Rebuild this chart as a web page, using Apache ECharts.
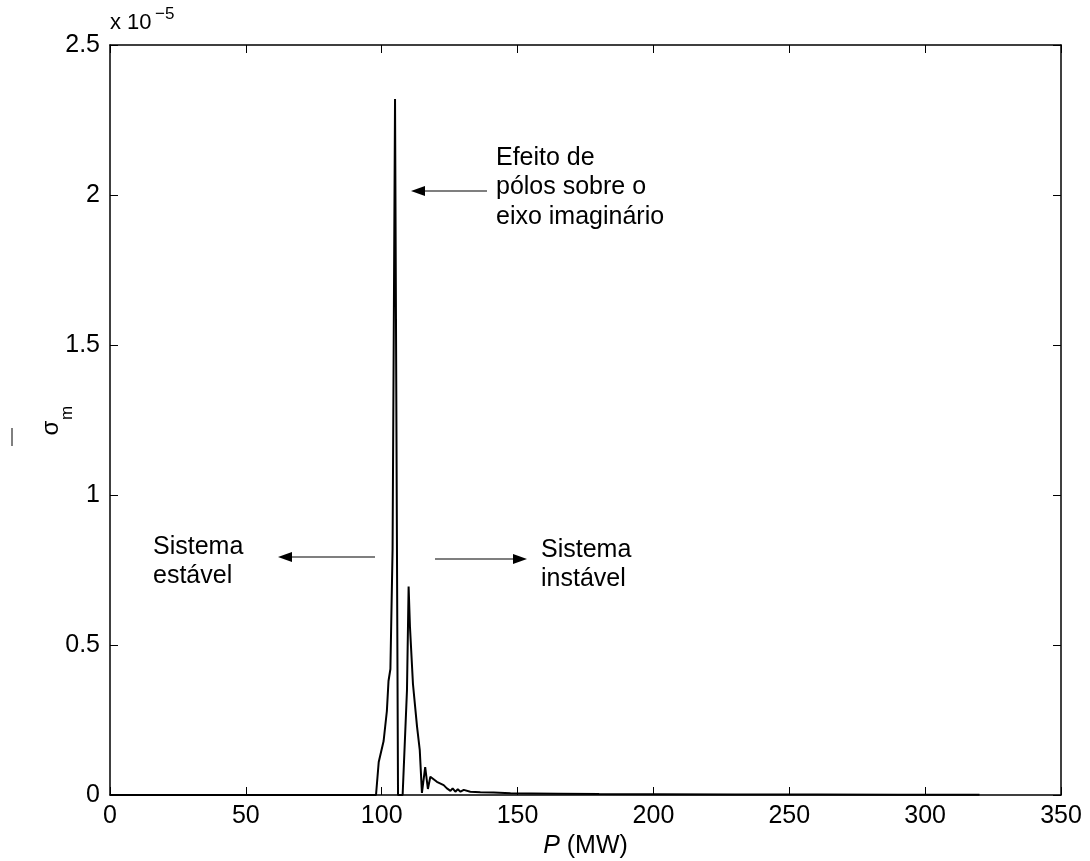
<!DOCTYPE html>
<html>
<head>
<meta charset="utf-8">
<script src="https://cdn.jsdelivr.net/npm/echarts@6/dist/echarts.min.js"></script>
<style>
html,body{margin:0;padding:0;background:#fff;}
#chart{width:1090px;height:861px;}
</style>
</head>
<body>
<div id="chart"></div>
<script>
// P (MW)
const P = [0, 97.9, 98.9, 100.7, 101.9, 102.5, 103.2, 104.0, 104.9, 106.0, 107.7, 109.3, 109.9, 110.4, 111.5, 113.0, 114.0, 114.8, 116.0, 117.0, 117.9, 118.5, 120.3, 122.8, 124.0, 125.3, 126.1, 127.1, 128.0, 129.0, 130.2, 132.6, 136.3, 141.2, 147.4, 155, 165, 180, 200, 230, 260, 290, 320];
// sigma_m (x 1e-5)
const sigma = [0, 0, 0.11, 0.18, 0.28, 0.38, 0.42, 0.82, 2.32, 0, 0, 0.35, 0.695, 0.56, 0.37, 0.228, 0.15, 0.007, 0.093, 0.02, 0.061, 0.058, 0.044, 0.033, 0.022, 0.014, 0.022, 0.011, 0.019, 0.011, 0.017, 0.011, 0.009, 0.008, 0.006, 0.005, 0.004, 0.003, 0.0025, 0.002, 0.0015, 0.001, 0.001];
const xTicks = [0, 50, 100, 150, 200, 250, 300, 350];
const yTicks = [0, 0.5, 1, 1.5, 2, 2.5];
const xLabel = 'P';
const xUnit = ' (MW)';
const yLabel = 'σ';
const ySub = 'm';
const expText = 'x 10';
const expSup = '−5';
const annot1 = ['Efeito de', 'pólos sobre o', 'eixo imaginário'];
const annot2 = ['Sistema', 'estável'];
const annot3 = ['Sistema', 'instável'];

const FONT = '"Liberation Sans", Arial, Helvetica, sans-serif';
const FS = 25;
const chart = echarts.init(document.getElementById('chart'));
const axisCommon = {
  type: 'value',
  axisLine: {show: true, onZero: false, lineStyle: {color: '#000', width: 1.5}},
  axisTick: {show: true, inside: true, length: 8, lineStyle: {color: '#000', width: 1}},
  splitLine: {show: false}
};
function arrowHead(x, y, dir) {
  return {type: 'polygon', shape: {points: [[x, y], [x - dir * 14, y - 5], [x - dir * 14, y + 5]]}, style: {fill: '#000'}};
}
function hline(x1, x2, y) {
  return {type: 'line', shape: {x1: x1, y1: y, x2: x2, y2: y}, style: {stroke: '#000', lineWidth: 1.2}};
}
function textBlock(x, y, lines) {
  return {type: 'text', x: x, y: y, style: {text: lines.join('\n'), font: FS + 'px ' + FONT, fill: '#000', lineHeight: 29.5}};
}
chart.setOption({
  animation: false,
  backgroundColor: '#fff',
  grid: {left: 110, right: 29, top: 45, bottom: 66, containLabel: false, outerBoundsMode: 'none'},
  xAxis: [
    Object.assign({}, axisCommon, {
      min: xTicks[0], max: xTicks[xTicks.length - 1], interval: 50, position: 'bottom',
      axisLabel: {color: '#000', fontSize: FS, fontFamily: FONT, margin: 9},
      name: '{i|' + xLabel + '}' + xUnit, nameLocation: 'middle', nameGap: 33,
      nameTextStyle: {color: '#000', fontSize: FS, fontFamily: FONT, rich: {i: {fontStyle: 'italic', fontSize: FS, fontFamily: FONT, color: '#000'}}}
    }),
    Object.assign({}, axisCommon, {
      min: xTicks[0], max: xTicks[xTicks.length - 1], interval: 50, position: 'top',
      axisLabel: {show: false}
    })
  ],
  yAxis: [
    Object.assign({}, axisCommon, {
      min: yTicks[0], max: yTicks[yTicks.length - 1], interval: 0.5, position: 'left',
      axisLabel: {color: '#000', fontSize: FS, fontFamily: FONT, margin: 10}
    }),
    Object.assign({}, axisCommon, {
      min: yTicks[0], max: yTicks[yTicks.length - 1], interval: 0.5, position: 'right',
      axisLabel: {show: false}
    })
  ],
  series: [{
    type: 'line',
    xAxisIndex: 0, yAxisIndex: 0,
    data: P.map((p, i) => [p, sigma[i]]),
    showSymbol: false,
    lineStyle: {color: '#000', width: 2},
    z: 5
  }],
  graphic: [
    {type: 'text', x: 110, y: 34, style: {text: expText, font: '22px ' + FONT, fill: '#000', textVerticalAlign: 'bottom'}},
    {type: 'text', x: 155, y: 23, style: {text: expSup, font: '17px ' + FONT, fill: '#000', textVerticalAlign: 'bottom'}},
    {type: 'text', x: 51, y: 428, rotation: Math.PI / 2, style: {text: yLabel, font: '24px ' + FONT, fill: '#000', textAlign: 'center', textVerticalAlign: 'middle'}},
    {type: 'text', x: 67, y: 413, rotation: Math.PI / 2, style: {text: ySub, font: '17px ' + FONT, fill: '#000', textAlign: 'center', textVerticalAlign: 'middle'}},
    {type: 'line', shape: {x1: 12, y1: 428, x2: 12, y2: 446}, style: {stroke: '#000', lineWidth: 1}},
    textBlock(496, 143, annot1),
    hline(487, 420, 191), arrowHead(411, 191, -1),
    textBlock(153, 532, annot2),
    hline(375, 290, 557), arrowHead(278, 557, -1),
    textBlock(541, 535, annot3),
    hline(435, 515, 559), arrowHead(527, 559, 1)
  ]
});
</script>
</body>
</html>
